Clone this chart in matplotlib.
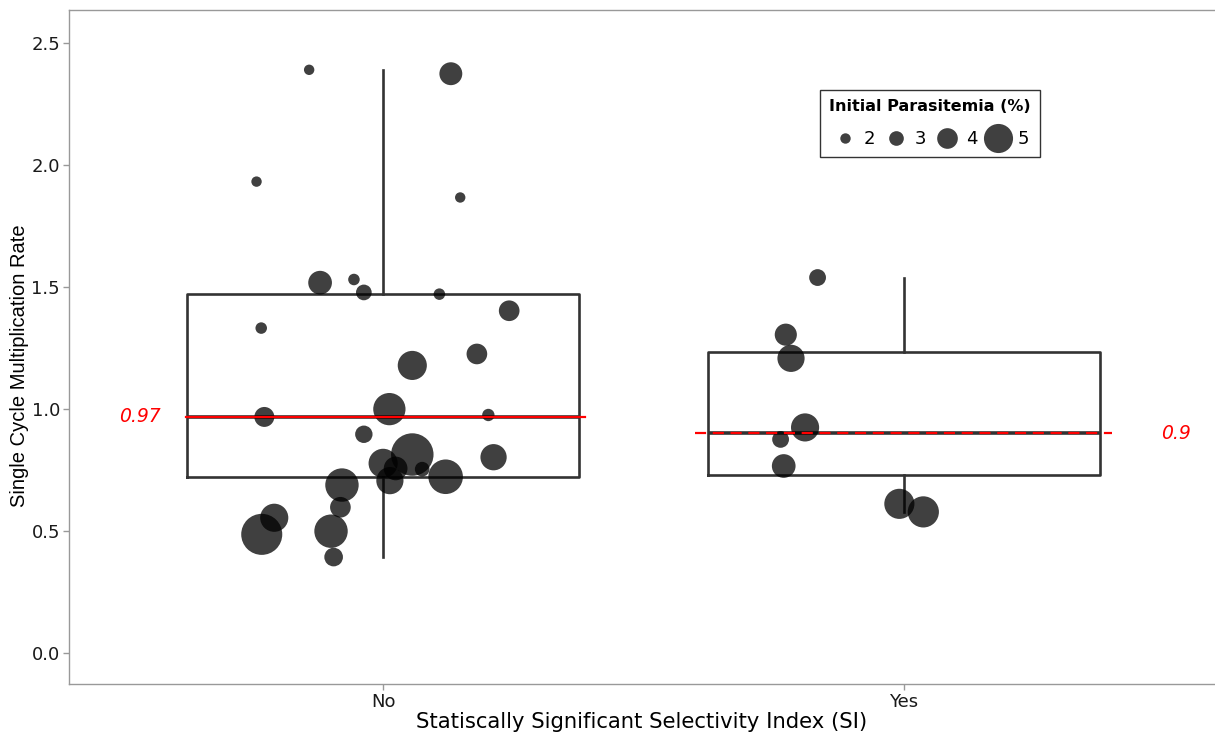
import numpy as np
import matplotlib
matplotlib.use("Agg")
import matplotlib.pyplot as plt
from matplotlib.lines import Line2D

plt.rcParams['font.family'] = ['DejaVu Sans']

categories = ["No", "Yes"]

# "No" group
no_rate = [2.39, 2.374, 1.932, 1.867, 1.518, 1.531, 1.478, 1.471, 1.403, 1.332,
           1.226, 1.179, 0.968, 1.000, 0.976, 0.897, 0.814, 0.778, 0.757, 0.754,
           0.707, 0.803, 0.723, 0.689, 0.598, 0.555, 0.487, 0.500, 0.394]
no_para = [2.0, 4.3, 2.0, 2.0, 4.4, 2.3, 3.2, 2.3, 4.0, 2.3,
           4.0, 5.0, 3.9, 5.3, 2.5, 3.5, 6.1, 5.0, 4.4, 3.0,
           4.8, 4.7, 5.5, 5.4, 4.0, 4.9, 6.0, 5.4, 3.7]
no_jitter = [-0.142, 0.130, -0.243, 0.148, -0.121, -0.056, -0.037, 0.108, 0.242, -0.234,
             0.180, 0.056, -0.228, 0.012, 0.202, -0.037, 0.056, 0.000, 0.024, 0.075,
             0.013, 0.212, 0.120, -0.079, -0.082, -0.209, -0.233, -0.100, -0.095]

# "Yes" group
yes_rate = [1.539, 1.305, 1.208, 0.925, 0.876, 0.767, 0.612, 0.579]
yes_para = [3.4, 4.2, 4.8, 4.9, 3.4, 4.4, 5.1, 5.2]
yes_jitter = [-0.166, -0.227, -0.217, -0.190, -0.237, -0.231, -0.009, 0.037]

legend_breaks = [2, 3, 4, 5]


def para_to_s(p):
    p = np.asarray(p, dtype=float)
    d_px = 10.4 * 2.8 ** ((p - 2.0) / 3.0)
    d_pt = d_px * 0.72
    return d_pt ** 2


fig = plt.figure(figsize=(12.15, 7.36), dpi=100)
ax = fig.add_axes([69 / 1215, 1 - 684 / 736, (1214 - 69) / 1215, (684 - 10) / 736])

box_col = '#333333'
groups = [no_rate, yes_rate]
positions = [1, 2]
ax.boxplot(groups, positions=positions, widths=0.752, whis=1.5, showfliers=False,
           showcaps=False, patch_artist=False, zorder=1,
           boxprops=dict(color=box_col, linewidth=1.9),
           whiskerprops=dict(color=box_col, linewidth=1.9),
           medianprops=dict(color=box_col, linewidth=2.6))

jitters = [no_jitter, yes_jitter]
paras = [no_para, yes_para]
for pos, vals, jit, par in zip(positions, groups, jitters, paras):
    x = pos + np.asarray(jit)
    ax.scatter(x, vals, s=para_to_s(par), color='black', alpha=0.75,
               linewidths=0, zorder=2)

# median lines & labels
med_no = np.median(no_rate)
med_yes = np.median(yes_rate)
ax.plot([0.622, 1.388], [med_no, med_no], color='red', lw=1.6, zorder=3)
ax.plot([1.599, 2.399], [med_yes, med_yes], color='red', lw=1.6, ls=(0, (5, 3)), zorder=3)
ax.text(0.534, med_no, f"{round(med_no, 2):g}", color='red', style='italic',
        fontsize=13.5, ha='center', va='center')
ax.text(2.522, med_yes, f"{round(med_yes, 2):g}", color='red', style='italic',
        fontsize=13.5, ha='center', va='center')

ax.set_xlim(0.397, 2.595)
ax.set_ylim(-0.126, 2.635)
ax.set_xticks(positions)
ax.set_xticklabels(categories)
ax.set_yticks([0.0, 0.5, 1.0, 1.5, 2.0, 2.5])
ax.set_yticklabels(["0.0", "0.5", "1.0", "1.5", "2.0", "2.5"])

spine_col = '#999999'
ax.spines['right'].set_visible(False)
for s in ['left', 'top', 'bottom']:
    ax.spines[s].set_color(spine_col)
    ax.spines[s].set_linewidth(1.0)
ax.tick_params(axis='both', colors=spine_col, length=4, width=1.0,
               labelsize=13, labelcolor='#1a1a1a', pad=2.5)

ax.set_ylabel("Single Cycle Multiplication Rate", fontsize=14.5, color='black',
              family='Liberation Sans')
ax.yaxis.set_label_coords(-0.0345, 0.473)
ax.set_xlabel("Statiscally Significant Selectivity Index (SI)", fontsize=15.2,
              color='black', labelpad=1)

handles = [Line2D([], [], marker='o', ls='none', color='black', alpha=0.75,
                  markeredgewidth=0, markersize=np.sqrt(para_to_s(b)))
           for b in legend_breaks]
leg = ax.legend(handles, [str(b) for b in legend_breaks], title="Initial Parasitemia (%)",
                ncol=4, loc='center', bbox_to_anchor=(0.752, 0.832),
                fontsize=13, title_fontproperties={'weight': 'bold', 'size': 11.5},
                frameon=True, fancybox=False, edgecolor='black',
                handletextpad=0.3, columnspacing=0.4, handlelength=1.5,
                borderpad=0.5, labelspacing=0.9)
leg.get_frame().set_linewidth(1.0)

fig.savefig("out.png", dpi=100)
